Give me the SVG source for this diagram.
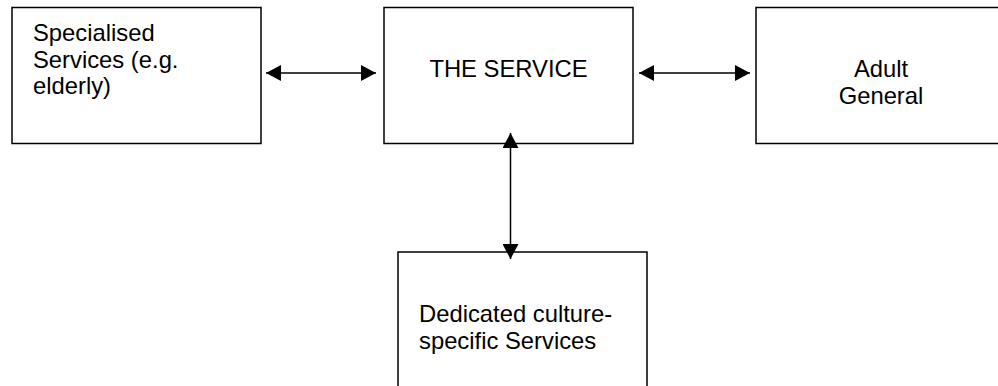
<svg xmlns="http://www.w3.org/2000/svg" width="998" height="386" viewBox="0 0 998 386">
<style>
.box{fill:#fff;stroke:#000;stroke-width:1.5}
.t{font-family:"Liberation Sans",Arial,sans-serif;font-size:23.8px;fill:#000}
.c{fill:none;stroke:#000;stroke-width:1.5}
</style>
<defs>
<marker id="ah" markerUnits="userSpaceOnUse" markerWidth="15" markerHeight="16" refX="15" refY="8" orient="auto-start-reverse" viewBox="0 0 15 16">
<path d="M0,0 L15,8 L0,16 z" fill="#000"/>
</marker>
</defs>
<rect width="998" height="386" fill="#fff"/>
<g id="specialised">
<rect class="box" x="12" y="7.5" width="249" height="136"/>
<text class="t" x="33" y="41">Specialised</text>
<text class="t" x="33" y="67.5">Services (e.g.</text>
<text class="t" x="33" y="94">elderly)</text>
</g>
<g id="service">
<rect class="box" x="384" y="7.5" width="249" height="136"/>
<text class="t" x="508.5" y="77" text-anchor="middle">THE SERVICE</text>
</g>
<g id="adult">
<rect class="box" x="756" y="7.5" width="249" height="136"/>
<text class="t" x="881" y="77" text-anchor="middle">Adult</text>
<text class="t" x="881" y="104" text-anchor="middle">General</text>
</g>
<g id="dedicated">
<rect class="box" x="398" y="252" width="249" height="140"/>
<text class="t" x="419" y="322">Dedicated culture-</text>
<text class="t" x="419" y="349">specific Services</text>
</g>
<g id="connectors">
<line class="c" x1="266" y1="73" x2="376" y2="73" marker-start="url(#ah)" marker-end="url(#ah)"/>
<line class="c" x1="639" y1="73" x2="750" y2="73" marker-start="url(#ah)" marker-end="url(#ah)"/>
<line class="c" x1="510.5" y1="133" x2="510.5" y2="259" marker-start="url(#ah)" marker-end="url(#ah)"/>
</g>
</svg>
